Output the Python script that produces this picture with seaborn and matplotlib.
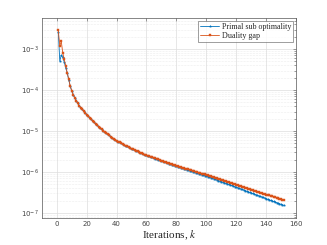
import matplotlib
matplotlib.use("Agg")
import matplotlib.pyplot as plt
import seaborn as sns
import numpy as np
import pandas as pd
from matplotlib.ticker import LogLocator, FixedLocator

# iterations k = 1..152
iterations = list(range(1, 153))

# log10 of the duality gap
duality_gap_log10 = [
    -2.54, -2.92, -2.81, -3.10, -3.25, -3.42, -3.58, -3.74, -3.90, -4.02,
    -4.11, -4.19, -4.26, -4.32, -4.38, -4.43, -4.47, -4.52, -4.56, -4.600,
    -4.640, -4.679, -4.717, -4.754, -4.790, -4.826, -4.861, -4.895, -4.928, -4.960,
    -4.991, -5.022, -5.052, -5.080, -5.108, -5.135, -5.161, -5.186, -5.211, -5.234,
    -5.257, -5.278, -5.299, -5.319, -5.339, -5.358, -5.377, -5.395, -5.413, -5.431,
    -5.448, -5.466, -5.482, -5.499, -5.515, -5.531, -5.546, -5.561, -5.576, -5.590,
    -5.604, -5.617, -5.630, -5.643, -5.656, -5.669, -5.682, -5.695, -5.708, -5.721,
    -5.734, -5.747, -5.760, -5.773, -5.786, -5.799, -5.812, -5.825, -5.838, -5.850,
    -5.861, -5.872, -5.883, -5.894, -5.905, -5.916, -5.927, -5.938, -5.949, -5.960,
    -5.971, -5.982, -5.993, -6.004, -6.015, -6.026, -6.037, -6.048, -6.059, -6.070,
    -6.082, -6.094, -6.106, -6.118, -6.130, -6.142, -6.154, -6.166, -6.178, -6.190,
    -6.202, -6.214, -6.226, -6.238, -6.250, -6.262, -6.274, -6.286, -6.298, -6.310,
    -6.322, -6.334, -6.346, -6.358, -6.370, -6.382, -6.394, -6.406, -6.418, -6.430,
    -6.442, -6.454, -6.466, -6.478, -6.490, -6.502, -6.514, -6.526, -6.538, -6.550,
    -6.562, -6.574, -6.586, -6.598, -6.610, -6.622, -6.634, -6.646, -6.658, -6.670,
    -6.682, -6.694,
]

# log10 of the primal sub optimality
primal_log10 = [
    -2.58, -3.29, -3.15, -3.20, -3.32, -3.45, -3.59, -3.75, -3.91, -4.02,
    -4.11, -4.19, -4.26, -4.32, -4.38, -4.43, -4.47, -4.52, -4.56, -4.600,
    -4.640, -4.679, -4.717, -4.754, -4.790, -4.826, -4.861, -4.895, -4.928, -4.960,
    -4.991, -5.022, -5.052, -5.080, -5.108, -5.135, -5.161, -5.186, -5.211, -5.234,
    -5.257, -5.278, -5.299, -5.319, -5.339, -5.358, -5.377, -5.395, -5.413, -5.431,
    -5.448, -5.466, -5.482, -5.499, -5.515, -5.531, -5.546, -5.561, -5.576, -5.590,
    -5.605, -5.618, -5.632, -5.645, -5.659, -5.672, -5.686, -5.699, -5.713, -5.726,
    -5.740, -5.753, -5.767, -5.780, -5.794, -5.807, -5.821, -5.834, -5.848, -5.860,
    -5.872, -5.884, -5.896, -5.908, -5.920, -5.932, -5.944, -5.956, -5.968, -5.980,
    -5.992, -6.004, -6.016, -6.028, -6.040, -6.052, -6.064, -6.076, -6.088, -6.100,
    -6.114, -6.127, -6.141, -6.154, -6.168, -6.181, -6.195, -6.208, -6.222, -6.235,
    -6.249, -6.262, -6.276, -6.289, -6.303, -6.316, -6.330, -6.343, -6.357, -6.370,
    -6.384, -6.398, -6.412, -6.426, -6.440, -6.454, -6.468, -6.482, -6.496, -6.510,
    -6.524, -6.538, -6.552, -6.566, -6.580, -6.594, -6.608, -6.622, -6.636, -6.650,
    -6.664, -6.678, -6.692, -6.706, -6.720, -6.734, -6.748, -6.762, -6.776, -6.790,
    -6.804, -6.814,
]

series_names = ["Primal sub optimality", "Duality gap"]
series_colors = ["#0072BD", "#D95319"]

df = pd.concat([
    pd.DataFrame({"k": iterations, "value": np.power(10.0, primal_log10), "series": series_names[0]}),
    pd.DataFrame({"k": iterations, "value": np.power(10.0, duality_gap_log10), "series": series_names[1]}),
])

sns.set_style("white")
plt.rcParams["font.family"] = ["DejaVu Sans"]
plt.rcParams["mathtext.fontset"] = "stix"

fig = plt.figure(figsize=(3.27, 2.45), dpi=100)
ax = fig.add_axes([0.128, 0.110, 0.777, 0.817])

sns.lineplot(data=df, x="k", y="value", hue="series", style="series",
             palette=series_colors, markers=["*", "s"], dashes=False,
             markersize=1.6, markeredgewidth=0.3, linewidth=0.6, ax=ax, legend=False)

# matlab style markers: same colour edge as the line
for ln in ax.get_lines():
    ln.set_markeredgecolor(ln.get_color())

ax.set_yscale("log")
ax.set_xlim(-10, 160)
ax.set_ylim(7.5e-8, 5.8e-3)
ax.set_xticks(np.arange(0, 161, 20))
ax.yaxis.set_major_locator(FixedLocator([1e-7, 1e-6, 1e-5, 1e-4, 1e-3]))
ax.yaxis.set_minor_locator(LogLocator(base=10, subs=np.arange(2, 10)))

spine_col = "#262626"
for s in ax.spines.values():
    s.set_color("#555555")
    s.set_linewidth(0.5)
ax.tick_params(which="both", direction="in", top=True, right=True,
               color="#555555", width=0.4)
ax.tick_params(which="major", length=2.5, labelsize=5, labelcolor="#444444", pad=2)
ax.tick_params(which="minor", length=1.4)

ax.grid(True, which="major", color="#dddddd", linewidth=0.5)
ax.grid(True, which="minor", axis="y", color="#dddddd", linewidth=0.4, linestyle=":")
ax.set_axisbelow(True)

ax.set_xlabel("Iterations, $k$", fontsize=8, labelpad=1, color="#262626")
ax.xaxis.label.set_fontname("Liberation Serif")
ax.set_ylabel("")

# legend built from the drawn lines
handles = ax.get_lines()[:2]
leg = ax.legend(handles, series_names, loc="upper right",
                prop={"family": "Liberation Serif", "size": 5.8},
                frameon=True, fancybox=False, edgecolor="#555555",
                borderpad=0.25, handlelength=2.4, handletextpad=0.3,
                labelspacing=0.15, borderaxespad=0.35)
leg.get_frame().set_linewidth(0.5)

fig.savefig("out.png", dpi=100)
